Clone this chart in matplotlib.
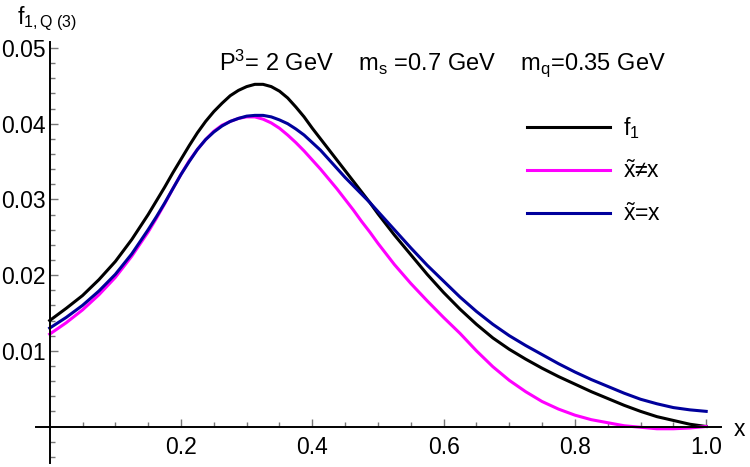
import numpy as np
import matplotlib
matplotlib.use("Agg")
import matplotlib.pyplot as plt
from matplotlib.ticker import FixedLocator

plt.rcParams['font.family'] = ['Liberation Sans', 'DejaVu Sans']
plt.rcParams['mathtext.fontset'] = 'custom'
plt.rcParams['mathtext.rm'] = 'Liberation Sans'
plt.rcParams['mathtext.it'] = 'Liberation Sans:italic'
plt.rcParams['mathtext.bf'] = 'Liberation Sans:bold'

# values (denser around the peak)
x = [0.0, 0.025, 0.05, 0.075, 0.1, 0.125,
     0.15, 0.1625, 0.175, 0.1875, 0.2, 0.2125, 0.225, 0.2375, 0.25, 0.2625,
     0.275, 0.2875, 0.3, 0.3125, 0.325, 0.3375, 0.35, 0.3625, 0.375, 0.3875,
     0.4, 0.4125, 0.425, 0.4375, 0.45, 0.4625, 0.475, 0.4875,
     0.5, 0.525, 0.55, 0.575, 0.6, 0.625, 0.65, 0.675, 0.7, 0.725,
     0.75, 0.775, 0.8, 0.825, 0.85, 0.875, 0.9, 0.925, 0.95, 0.975, 1.0]

f1 = [0.0140, 0.0156, 0.0173, 0.0194, 0.0218, 0.0247,
      0.0280, 0.0298, 0.0316, 0.0335, 0.0353, 0.0371, 0.0388, 0.0403, 0.0416, 0.0427,
      0.0437, 0.0444, 0.0449, 0.0452, 0.0452, 0.0449, 0.0443, 0.0434, 0.0422, 0.0409,
      0.0394, 0.0380, 0.0366, 0.0352, 0.0338, 0.0324, 0.0310, 0.0296,
      0.0281, 0.0253, 0.0227, 0.0201, 0.0177, 0.0155, 0.0135, 0.0117, 0.0102, 0.0089,
      0.0077, 0.0066, 0.0056, 0.0046, 0.0037, 0.0028, 0.0020, 0.0013, 0.0008, 0.0003, 0.0000]

x_neq = [0.0122, 0.0137, 0.0154, 0.0174, 0.0197, 0.0225,
         0.0257, 0.0275, 0.0294, 0.0314, 0.0333, 0.0351, 0.0366, 0.0379, 0.0390, 0.0398,
         0.0403, 0.0407, 0.0409, 0.0409, 0.0406, 0.0401, 0.0394, 0.0385, 0.0375, 0.0364,
         0.0352, 0.0340, 0.0327, 0.0314, 0.0300, 0.0286, 0.0271, 0.0257,
         0.0242, 0.0214, 0.0189, 0.0166, 0.0144, 0.0123, 0.0100, 0.0079, 0.0061, 0.0046,
         0.0033, 0.0023, 0.0015, 0.0009, 0.0005, 0.0001, -0.0001, -0.0003, -0.0003, -0.0002, 0.0000]

x_eq = [0.0130, 0.0144, 0.0160, 0.0179, 0.0201, 0.0228,
        0.0260, 0.0277, 0.0295, 0.0314, 0.0333, 0.0350, 0.0366, 0.0379, 0.0389, 0.0397,
        0.0403, 0.0407, 0.0410, 0.0411, 0.0411, 0.0409, 0.0405, 0.0400, 0.0393, 0.0385,
        0.0375, 0.0365, 0.0353, 0.0341, 0.0329, 0.0318, 0.0307, 0.0296,
        0.0284, 0.0260, 0.0236, 0.0213, 0.0192, 0.0171, 0.0152, 0.0135, 0.0120, 0.0107,
        0.0095, 0.0083, 0.0072, 0.0062, 0.0053, 0.0044, 0.0036, 0.0030, 0.0025, 0.0022, 0.0020]

labels = [r'f$_1$', r'$\tilde{\mathrm{x}}$≠x', r'$\tilde{\mathrm{x}}$=x']
colors = ['black', '#ff00ff', '#00009c']

xticks = [0.2, 0.4, 0.6, 0.8, 1.0]
xticklabels = ['0.2', '0.4', '0.6', '0.8', '1.0']
yticks = [0.01, 0.02, 0.03, 0.04, 0.05]
yticklabels = ['0.01', '0.02', '0.03', '0.04', '0.05']

fs = 16.5
W, H = 750, 467

fig = plt.figure(figsize=(W / 100, H / 100), dpi=100)
ax = fig.add_axes([0, 0, 1, 1])

# pixel -> data: x=0 at px 49.7, 656.5 px per unit; y=0 at px 426.5, 7570 px per unit
ax.set_xlim((0 - 49.7) / 656.5, (W - 49.7) / 656.5)
ax.set_ylim((426.5 - H) / 7570, 426.5 / 7570)

for ys, lab, c in zip([f1, x_neq, x_eq], labels, colors):
    ax.plot(x, ys, color=c, lw=2.2, label=lab)

ax.spines['top'].set_visible(False)
ax.spines['right'].set_visible(False)
ax.spines['left'].set_position(('data', 0))
ax.spines['bottom'].set_position(('data', 0))
ax.spines['left'].set_bounds(-0.0048, 0.0508)
ax.spines['bottom'].set_bounds(-0.021, 1.023)
for s in ['left', 'bottom']:
    ax.spines[s].set_linewidth(1.4)

ax.xaxis.set_major_locator(FixedLocator(xticks))
ax.xaxis.set_minor_locator(FixedLocator([v for v in np.round(np.arange(1, 21) * 0.05, 2)
                                         if v not in xticks]))
ax.yaxis.set_major_locator(FixedLocator(yticks))
ax.yaxis.set_minor_locator(FixedLocator([v for v in np.round(np.arange(-2, 26) * 0.002, 3)
                                         if v not in yticks and v != 0]))
ax.set_xticklabels(xticklabels)
ax.set_yticklabels(yticklabels)
ax.tick_params(which='major', direction='in', length=6, width=1, color='#777777',
               labelsize=fs)
ax.tick_params(which='minor', direction='in', length=3.5, width=1, color='#777777')
ax.tick_params(axis='x', which='major', pad=7)
ax.tick_params(axis='y', which='major', pad=3)

fig.text(17 / W, 1 - 24 / H, r'f$_{1,\mathrm{Q\ (3)}}$', fontsize=fs, ha='left', va='baseline')
fig.text(734 / W, 1 - 429 / H, 'x', fontsize=fs, ha='left', va='center')
fig.text(442.5 / W, 1 - 70 / H,
         r'P$^3$= 2 GeV    m$_\mathrm{s}$ =0.7 GeV    m$_\mathrm{q}$=0.35 GeV',
         fontsize=17, ha='center', va='baseline')

ax.legend(loc='upper left', bbox_to_anchor=(527 / W, 1 - 115 / H), frameon=False,
          fontsize=fs, handlelength=3.6, handletextpad=0.6, labelspacing=0.85,
          borderpad=0, borderaxespad=0)

fig.savefig('out.png', dpi=100, facecolor='white')
